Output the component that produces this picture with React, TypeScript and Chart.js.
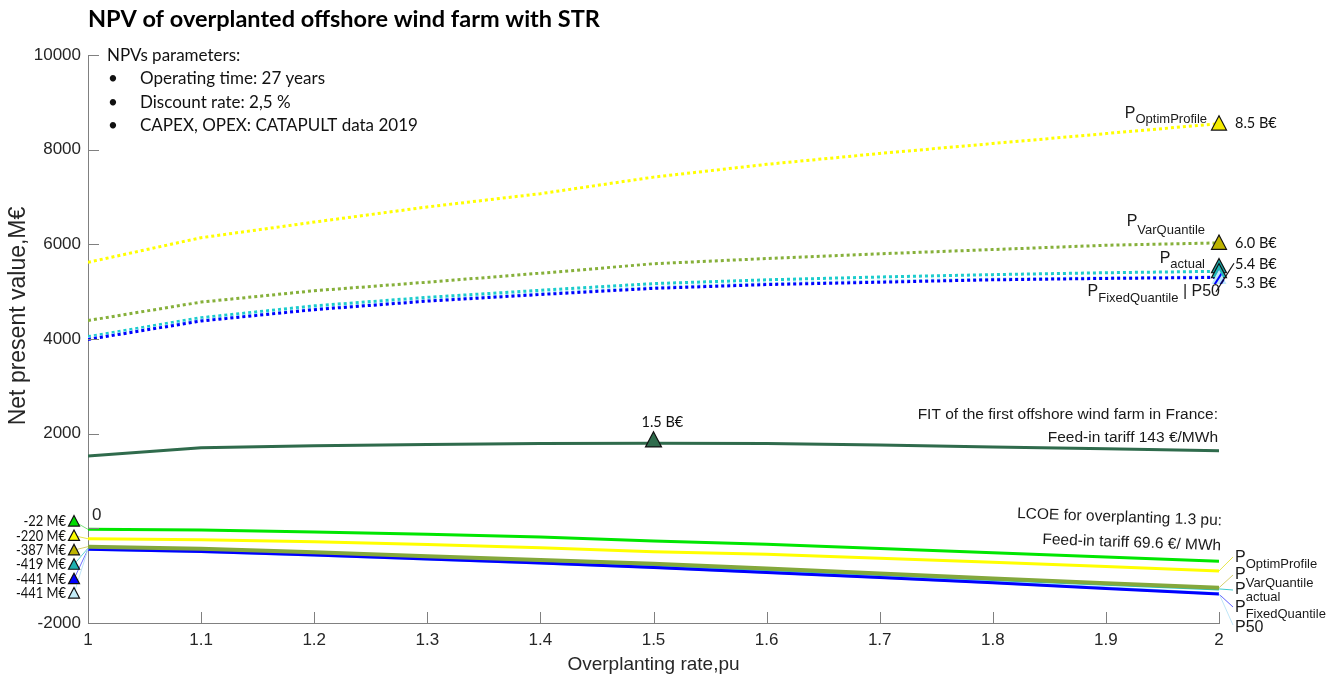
import React, { useEffect, useRef } from "react";
import { Chart, registerables } from "chart.js";

Chart.register(...registerables);

// ---------------- data ----------------
const overplantingRate = [1.0, 1.1, 1.2, 1.3, 1.4, 1.5, 1.6, 1.7, 1.8, 1.9, 2.0];
const yTickValues = [-2000, 0, 2000, 4000, 6000, 8000, 10000];

// NPV with STR (dotted)
const strOptimProfile = [5620, 6140, 6470, 6790, 7070, 7420, 7690, 7920, 8130, 8340, 8550];
const strVarQuantile = [4390, 4780, 5020, 5200, 5390, 5590, 5700, 5800, 5890, 5980, 6030];
const strActual = [4050, 4450, 4700, 4880, 5030, 5170, 5250, 5310, 5360, 5400, 5430];
const strFixedQuantile = [3990, 4380, 4620, 4800, 4940, 5070, 5150, 5200, 5250, 5280, 5300];
const strP50 = [4010, 4400, 4640, 4820, 4960, 5090, 5170, 5220, 5265, 5290, 5310];

// FIT of the first offshore wind farm in France (143 €/MWh)
const fitFrance = [1530, 1700, 1745, 1770, 1790, 1800, 1790, 1760, 1720, 1680, 1640];

// LCOE feed-in tariff 69.6 €/MWh (solid)
const lcoeBest = [-22, -35, -75, -125, -185, -270, -335, -425, -515, -605, -695];
const lcoeOptimProfile = [-220, -240, -285, -340, -410, -495, -550, -630, -715, -805, -900];
const lcoeVarQuantile = [-387, -430, -505, -590, -670, -750, -850, -955, -1060, -1160, -1255];
const lcoeActual = [-419, -455, -530, -610, -690, -775, -870, -975, -1080, -1180, -1280];
const lcoeFixedQuantile = [-441, -490, -565, -650, -735, -825, -935, -1040, -1150, -1270, -1390];
const lcoeP50 = [-441, -488, -562, -647, -732, -822, -930, -1035, -1145, -1262, -1380];

const leftLabels = ["-22 M€", "-220 M€", "-387 M€", "-419 M€", "-441 M€", "-441 M€"];
const endLabels = ["8.5 B€", "6.0 B€", "5.4 B€", "5.3 B€"];
const fitMarkerLabel = "1.5 B€";
const paramLines = ["Operating time: 27 years", "Discount rate: 2,5 %", "CAPEX, OPEX: CATAPULT data 2019"];

// ---------------- styles ----------------
const SANS = '"Liberation Sans", Arial, sans-serif';
const CAL = 'Lato, "Open Sans", sans-serif';
const COL = {
  lime: "#00e600",
  yellow: "#ffff00",
  olive: "#86b03a",
  cyan: "#1ccccc",
  blue: "#0000ff",
  light: "#8fd6fb",
  fit: "#2f6b4c",
};

const pts = (arr: number[]) => arr.map((v, i) => ({ x: overplantingRate[i], y: v }));

function tri(ctx: CanvasRenderingContext2D, cx: number, cy: number, w: number, fill: string) {
  const h = w * 0.95;
  ctx.beginPath();
  ctx.moveTo(cx, cy - h * 0.55);
  ctx.lineTo(cx + w / 2, cy + h * 0.45);
  ctx.lineTo(cx - w / 2, cy + h * 0.45);
  ctx.closePath();
  ctx.fillStyle = fill;
  ctx.fill();
  ctx.lineWidth = 1.2;
  ctx.strokeStyle = "#111";
  ctx.stroke();
}

function hatchTri(ctx: CanvasRenderingContext2D, cx: number, cy: number, w: number) {
  const h = w * 0.95;
  ctx.save();
  ctx.beginPath();
  ctx.moveTo(cx, cy - h * 0.55);
  ctx.lineTo(cx + w / 2, cy + h * 0.45);
  ctx.lineTo(cx - w / 2, cy + h * 0.45);
  ctx.closePath();
  ctx.fillStyle = "#bfeaf7";
  ctx.fill();
  ctx.save();
  ctx.clip();
  ctx.strokeStyle = COL.blue;
  ctx.lineWidth = 2;
  for (let k = -2; k <= 2; k++) {
    ctx.beginPath();
    ctx.moveTo(cx - w + k * 6, cy + h);
    ctx.lineTo(cx + k * 6 + w * 0.2, cy - h);
    ctx.stroke();
  }
  ctx.restore();
  ctx.lineWidth = 1.2;
  ctx.strokeStyle = "#111";
  ctx.stroke();
  ctx.restore();
}

function pSub(
  ctx: CanvasRenderingContext2D,
  x: number,
  y: number,
  sub: string,
  align: "left" | "right",
  subDy = 7,
  tail = ""
) {
  ctx.textBaseline = "middle";
  ctx.textAlign = "left";
  ctx.font = `16px ${SANS}`;
  const wP = ctx.measureText("P").width;
  const wT = tail ? ctx.measureText(tail).width : 0;
  ctx.font = `13px ${SANS}`;
  const wS = ctx.measureText(sub).width;
  const x0 = align === "left" ? x : x - wP - wS - wT;
  ctx.font = `16px ${SANS}`;
  ctx.fillText("P", x0, y);
  if (tail) ctx.fillText(tail, x0 + wP + wS, y);
  ctx.font = `13px ${SANS}`;
  ctx.fillText(sub, x0 + wP, y + subDy);
}

const annotations = {
  id: "npvAnnotations",
  afterDraw(chart: any) {
    const ctx: CanvasRenderingContext2D = chart.ctx;
    const xs = chart.scales.x;
    const ys = chart.scales.y;
    const { left, right, bottom } = chart.chartArea;
    const X = (v: number) => xs.getPixelForValue(v);
    const Y = (v: number) => ys.getPixelForValue(v);
    const last = overplantingRate.length - 1;
    ctx.save();

    // inward tick marks
    ctx.strokeStyle = "#808080";
    ctx.lineWidth = 1;
    overplantingRate.forEach((v) => {
      const px = Math.round(X(v)) + 0.5;
      ctx.beginPath();
      ctx.moveTo(px, bottom);
      ctx.lineTo(px, bottom - 11);
      ctx.stroke();
    });
    yTickValues.forEach((v) => {
      const py = Math.round(Y(v)) + 0.5;
      ctx.beginPath();
      ctx.moveTo(left, py);
      ctx.lineTo(left + 11, py);
      ctx.stroke();
    });

    // "0" tick label drawn inside
    ctx.fillStyle = "#262626";
    ctx.font = `17px ${SANS}`;
    ctx.textAlign = "left";
    ctx.textBaseline = "middle";
    ctx.fillText("0", left + 4, Y(0) - 13);

    // Title
    ctx.fillStyle = "#000";
    ctx.font = `bold 23.5px ${CAL}`;
    ctx.textAlign = "left";
    ctx.fillText("NPV of overplanted offshore wind farm with STR", left, 19);

    // axis titles
    ctx.fillStyle = "#262626";
    ctx.font = `19px ${SANS}`;
    ctx.textAlign = "center";
    ctx.fillText("Overplanting rate,pu", (left + right) / 2, 665);
    ctx.save();
    ctx.translate(19, 316);
    ctx.rotate(-Math.PI / 2);
    ctx.font = `23px ${SANS}`;
    ctx.fillText("Net present value,M€", 0, 0);
    ctx.restore();

    // parameter box
    ctx.fillStyle = "#111";
    ctx.font = `17px ${CAL}`;
    ctx.textAlign = "left";
    ctx.fillText("NPVs parameters:", left + 19, 56);
    paramLines.forEach((t, i) => {
      const y = 79 + i * 23.5;
      ctx.fillText("•", left + 20, y);
      ctx.fillText(t, left + 52, y);
    });

    // right end markers on STR curves
    const mx = X(overplantingRate[last]);
    const yOpt = Y(strOptimProfile[last]);
    const yVar = Y(strVarQuantile[last]);
    const yAct = Y(strActual[last]);
    const yFix = Y(strFixedQuantile[last]);
    tri(ctx, mx, yOpt, 15, "#f5ec00");
    tri(ctx, mx, yVar, 15, "#bdb300");
    tri(ctx, mx, yAct - 5, 15, "#1aa9a9");
    tri(ctx, mx, yAct, 15, "#1fb7b7");
    hatchTri(ctx, mx, yFix, 15);

    ctx.fillStyle = "#111";
    ctx.font = `14.5px ${CAL}`;
    ctx.textAlign = "left";
    ctx.textBaseline = "middle";
    ctx.fillText(endLabels[0], mx + 16, yOpt);
    ctx.fillText(endLabels[1], mx + 16, yVar);
    ctx.fillText(endLabels[2], mx + 16, yAct - 7);
    ctx.fillText(endLabels[3], mx + 16, yFix + 6);

    ctx.fillStyle = "#1a1a1a";
    pSub(ctx, mx - 12, yOpt - 10, "OptimProfile", "right", 6);
    pSub(ctx, mx - 14, yVar - 21, "VarQuantile", "right", 9);
    pSub(ctx, mx - 14, yAct - 13, "actual", "right", 6);
    pSub(ctx, mx + 1, yFix + 14, "FixedQuantile", "right", 7, " | P50");

    // FIT marker
    const fx = X(overplantingRate[5]);
    const fy = Y(fitFrance[5]);
    tri(ctx, fx, fy - 3, 16, COL.fit);
    ctx.fillStyle = "#111";
    ctx.font = `14.5px ${CAL}`;
    ctx.textAlign = "left";
    ctx.fillText(fitMarkerLabel, fx - 12, fy - 21);

    // FIT text
    ctx.fillStyle = "#1a1a1a";
    ctx.font = `15.5px ${SANS}`;
    ctx.textAlign = "right";
    ctx.fillText("FIT of the first offshore wind farm in France:", right - 1, 415);
    ctx.fillText("Feed-in tariff 143 €/MWh", right - 1, 438);

    // LCOE text (slightly tilted)
    ctx.save();
    ctx.translate(right + 3, 521);
    ctx.rotate(0.035);
    ctx.fillText("LCOE for overplanting 1.3 pu:", 0, 0);
    ctx.fillText("Feed-in tariff 69.6 €/ MWh", 0, 25);
    ctx.restore();

    // left markers + connectors
    const leftSeries = [lcoeBest, lcoeOptimProfile, lcoeVarQuantile, lcoeActual, lcoeFixedQuantile, lcoeP50];
    const leftFills = ["#00dd00", "#ffff00", "#bdb300", "#1fb0b0", "#0000ff", "#c4ecf8"];
    const leftLinks = ["#7de07d", "#e6e64d", "#d6cf6e", "#5fd0d0", "#7070ff", "#bfe6f7"];
    const y0 = Y(0) - 7;
    leftSeries.forEach((s, i) => {
      const my = y0 + i * 14.4;
      ctx.strokeStyle = leftLinks[i];
      ctx.lineWidth = 1;
      ctx.beginPath();
      ctx.moveTo(left - 14, my);
      ctx.lineTo(left, Y(s[0]));
      ctx.stroke();
    });
    leftSeries.forEach((s, i) => {
      const my = y0 + i * 14.4;
      tri(ctx, left - 14, my, 11, leftFills[i]);
      ctx.fillStyle = "#111";
      ctx.save();
      ctx.translate(left - 22, my);
      ctx.scale(0.86, 1);
      ctx.font = `15px ${CAL}`;
      ctx.textAlign = "right";
      ctx.textBaseline = "middle";
      ctx.fillText(leftLabels[i], 0, 0);
      ctx.restore();
    });

    // right connectors + labels for LCOE curves
    const rightSeries = [lcoeOptimProfile, lcoeVarQuantile, lcoeActual, lcoeFixedQuantile, lcoeP50];
    const rightLinks = ["#e6e64d", "#d6cf6e", "#3fcccc", "#6060ff", "#bfe6f7"];
    const linkEnds = [-66, -48, -33, -16, 2];
    rightSeries.forEach((s, i) => {
      ctx.strokeStyle = rightLinks[i];
      ctx.lineWidth = 1;
      ctx.beginPath();
      ctx.moveTo(mx, Y(s[last]));
      ctx.lineTo(mx + 14, bottom + linkEnds[i]);
      ctx.stroke();
    });
    ctx.fillStyle = "#1a1a1a";
    pSub(ctx, right + 16, bottom - 65, "OptimProfile", "left", 6);
    pSub(ctx, right + 16, bottom - 48.5, "VarQuantile", "left", 9);
    pSub(ctx, right + 16, bottom - 33, "actual", "left", 7);
    pSub(ctx, right + 16, bottom - 15.5, "FixedQuantile", "left", 7);
    ctx.font = `16px ${SANS}`;
    ctx.textAlign = "left";
    ctx.fillText("P50", right + 16, bottom + 4.5);

    ctx.restore();
  },
};

export default function App() {
  const ref = useRef<HTMLCanvasElement | null>(null);

  useEffect(() => {
    if (!ref.current) return;
    const dotted = (data: number[], color: string, order: number) => ({
      data: pts(data),
      borderColor: color,
      borderWidth: 3,
      borderDash: [3, 3],
      borderCapStyle: "butt",
      pointRadius: 0,
      fill: false,
      tension: 0,
      order,
    });
    const solid = (data: number[], color: string, order: number, width = 3) => ({
      data: pts(data),
      borderColor: color,
      borderWidth: width,
      pointRadius: 0,
      fill: false,
      tension: 0,
      order,
    });

    const chart = new Chart(ref.current, {
      type: "line",
      data: {
        datasets: [
          dotted(strOptimProfile, COL.yellow, 1),
          dotted(strVarQuantile, COL.olive, 2),
          dotted(strActual, COL.cyan, 5),
          dotted(strFixedQuantile, COL.blue, 3),
          dotted(strP50, COL.light, 4),
          solid(fitFrance, COL.fit, 1),
          solid(lcoeBest, COL.lime, 1),
          solid(lcoeOptimProfile, COL.yellow, 2),
          solid(lcoeVarQuantile, "#84a83c", 3, 4),
          solid(lcoeActual, "#22c2c2", 4),
          solid(lcoeFixedQuantile, COL.blue, 3),
          solid(lcoeP50, COL.light, 6),
        ] as any,
      },
      options: {
        animation: false,
        responsive: false,
        maintainAspectRatio: false,
        devicePixelRatio: 1,
        layout: { padding: { top: 55, right: 122, left: 0, bottom: 0 } },
        plugins: {
          legend: { display: false },
          tooltip: { enabled: false },
          title: { display: false },
        },
        scales: {
          x: {
            type: "linear",
            min: 1,
            max: 2,
            afterFit: (s: any) => {
              s.height = 61;
            },
            afterBuildTicks: (s: any) => {
              s.ticks = overplantingRate.map((v) => ({ value: v }));
            },
            grid: { display: false, drawTicks: false, tickLength: 0 },
            border: { display: true, color: "#808080", width: 1 },
            ticks: {
              padding: 7,
              color: "#262626",
              font: { family: SANS, size: 17 },
              maxRotation: 0,
              callback: (v: any) => String(Number(Number(v).toFixed(1))),
            },
          },
          y: {
            type: "linear",
            min: -2000,
            max: 10000,
            afterFit: (s: any) => {
              s.width = 88;
            },
            afterBuildTicks: (s: any) => {
              s.ticks = yTickValues.map((v) => ({ value: v }));
            },
            grid: { display: false, drawTicks: false, tickLength: 0 },
            border: { display: true, color: "#808080", width: 1 },
            ticks: {
              padding: 7,
              color: "#262626",
              font: { family: SANS, size: 17 },
              callback: (v: any) => (Number(v) === 0 ? "" : String(v)),
            },
          },
        },
      } as any,
      plugins: [annotations],
    });
    return () => chart.destroy();
  }, []);

  return (
    <div style={{ position: "fixed", left: 0, top: 0, width: 1341, height: 684, background: "#fff" }}>
      <canvas ref={ref} width={1341} height={684} style={{ width: 1341, height: 684, display: "block" }} />
    </div>
  );
}
